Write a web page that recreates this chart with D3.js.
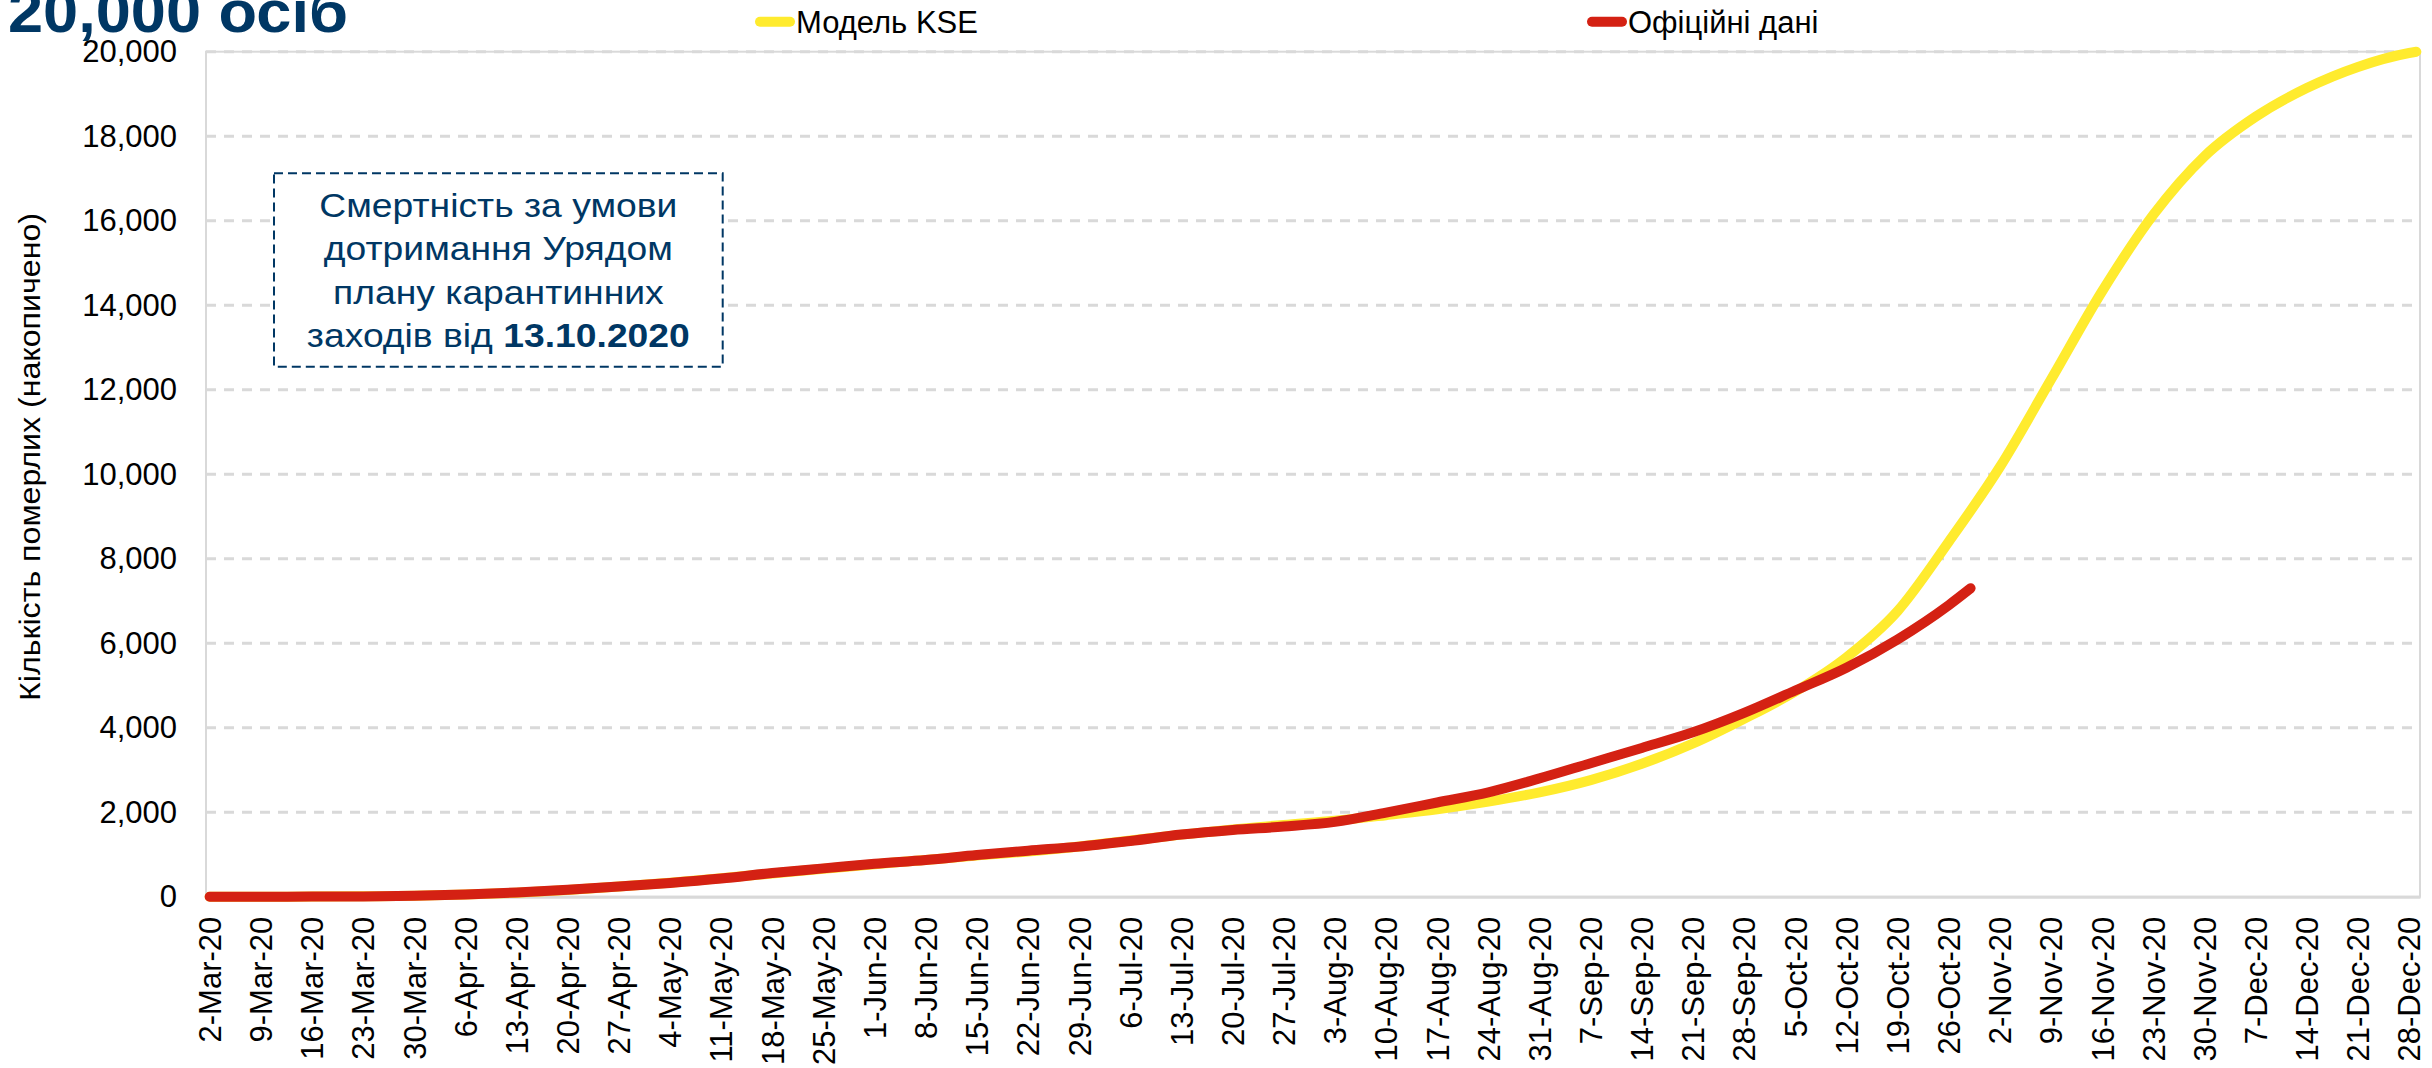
<!DOCTYPE html>
<html>
<head>
  <meta charset="utf-8">
  <title>Смертність COVID-19: модель KSE та офіційні дані</title>
  <style>
    body { margin: 0; background: #fff; }
    svg { display: block; font-family: 'Liberation Sans', Arial, sans-serif; }
  </style>
</head>
<body>
  <div id="plot"></div>
  <script src="https://cdn.jsdelivr.net/npm/d3@7"></script>
  <script>

    // weekly tick labels on the x axis
    let weekLabels = [
      '2-Mar-20', '9-Mar-20', '16-Mar-20', '23-Mar-20', '30-Mar-20',
      '6-Apr-20', '13-Apr-20', '20-Apr-20', '27-Apr-20',
      '4-May-20', '11-May-20', '18-May-20', '25-May-20',
      '1-Jun-20', '8-Jun-20', '15-Jun-20', '22-Jun-20', '29-Jun-20',
      '6-Jul-20', '13-Jul-20', '20-Jul-20', '27-Jul-20',
      '3-Aug-20', '10-Aug-20', '17-Aug-20', '24-Aug-20', '31-Aug-20',
      '7-Sep-20', '14-Sep-20', '21-Sep-20', '28-Sep-20',
      '5-Oct-20', '12-Oct-20', '19-Oct-20', '26-Oct-20',
      '2-Nov-20', '9-Nov-20', '16-Nov-20', '23-Nov-20', '30-Nov-20',
      '7-Dec-20', '14-Dec-20', '21-Dec-20', '28-Dec-20'
    ];

    // KSE model, cumulative deaths
    let kseDates = weekLabels.concat(['29-Dec-20']);
    let kseValues = [
      0, 1, 3, 8, 20, 50, 95, 160, 240, 330, 440, 550, 660, 770, 870,
      975, 1070, 1190, 1330, 1470, 1590, 1700, 1800, 1930, 2070, 2250,
      2470, 2760, 3146, 3625, 4210, 4855, 5665, 6760, 8400, 10170,
      12240, 14330, 16140, 17525, 18460, 19140, 19640, 19970, 20000
    ];

    // official data, cumulative deaths
    let officialDates = weekLabels.slice(0, 35).concat(['29-Oct-20']);
    let officialValues = [
      0, 0, 2, 5, 22, 50, 100, 165, 240, 325, 430, 560, 670, 780, 870,
      985, 1090, 1185, 1320, 1470, 1580, 1660, 1770, 1990, 2230, 2470,
      2800, 3160, 3520, 3890, 4350, 4880, 5420, 6090, 6900, 7300
    ];

    let yTicks = [0, 2000, 4000, 6000, 8000, 10000, 12000, 14000, 16000, 18000, 20000];

    let seriesNames = ['Модель KSE', 'Офіційні дані'];
    let seriesColors = ['#ffeb2e', '#d42113'];

    let titleText = '20,000 осіб';
    let yTitle = 'Кількість померлих (накопичено)';
    let noteLines = ['Смертність за умови', 'дотримання Урядом', 'плану карантинних'];
    let noteLast = ['заходів від ', '13.10.2020'];

    function translate(x, y) {
      return 'translate(' + x + ', ' + y + ')';
    }

    let parseDate = d3.utcParse('%d-%b-%y');
    let navy = '#003764';
    let grid = '#d9d9d9';
    let font = "'Liberation Sans', Arial, sans-serif";

    let svgWidth = 2432;
    let svgHeight = 1068;
    let plot = {left: 206, right: 2420, top: 51.7, bottom: 896.7};

    let svg = d3.select('#plot')
      .append('svg')
        .attr('width', svgWidth)
        .attr('height', svgHeight);

    let start = d3.utcHour.offset(parseDate('1-Mar-20'), 12);
    let end = d3.utcHour.offset(parseDate('29-Dec-20'), 12);

    let x = d3.scaleUtc()
      .domain([start, end])
      .range([plot.left, plot.right]);

    let y = d3.scaleLinear()
      .domain([0, 20000])
      .range([plot.bottom, plot.top]);

    // plot area frame
    svg.append('rect')
      .attr('x', plot.left)
      .attr('y', plot.top)
      .attr('width', plot.right - plot.left)
      .attr('height', plot.bottom - plot.top)
      .style('fill', 'none')
      .style('stroke', grid)
      .style('stroke-width', 2);

    // dashed gridlines
    svg.append('g')
      .selectAll('line')
      .data(yTicks.filter(d => d > 0))
      .enter()
      .append('line')
        .attr('x1', plot.left)
        .attr('x2', plot.right)
        .attr('y1', d => y(d))
        .attr('y2', d => y(d))
        .style('stroke', grid)
        .style('stroke-width', 3)
        .style('stroke-dasharray', '10,8');

    // y axis
    let yAxis = d3.axisLeft(y)
      .tickValues(yTicks)
      .tickSize(0)
      .tickPadding(29)
      .tickFormat(d3.format(','));

    svg.append('g')
      .attr('transform', translate(plot.left, 0))
      .call(yAxis)
      .call(g => g.select('.domain').remove())
      .selectAll('text')
        .style('font-size', '31px')
        .style('fill', '#000')
        .style('font-family', font);

    // x axis
    let xAxis = d3.axisBottom(x)
      .tickValues(weekLabels.map(parseDate))
      .tickSize(0)
      .tickFormat(d => d3.utcFormat('%-d-%b-%y')(d));

    let xg = svg.append('g')
      .attr('transform', translate(0, plot.bottom))
      .call(xAxis);

    xg.select('.domain')
      .style('stroke', grid)
      .style('stroke-width', 3);

    xg.selectAll('text')
      .attr('transform', 'rotate(-90)')
      .attr('x', -20)
      .attr('y', 0)
      .attr('dy', '0.35em')
      .style('text-anchor', 'end')
      .style('font-size', '31px')
      .style('fill', '#000')
      .style('font-family', font);

    // y axis title
    svg.append('text')
      .attr('transform', translate(40, 457) + ' rotate(-90)')
      .attr('x', -244)
      .attr('textLength', 488)
      .attr('lengthAdjust', 'spacingAndGlyphs')
      .style('font-size', '30px')
      .style('fill', '#000')
      .text(yTitle);

    // lines
    let line = d3.line()
      .x(d => x(d.date))
      .y(d => y(d.value))
      .curve(d3.curveMonotoneX);

    let kse = kseDates.map((d, i) => ({date: parseDate(d), value: kseValues[i]}));
    let official = officialDates.map((d, i) => ({date: parseDate(d), value: officialValues[i]}));

    [kse, official].forEach((series, i) => {
      svg.append('path')
        .datum(series)
        .attr('d', line)
        .style('fill', 'none')
        .style('stroke', seriesColors[i])
        .style('stroke-width', 10)
        .style('stroke-linecap', 'round')
        .style('stroke-linejoin', 'round');
    });

    // legend
    let legendX = [755, 1587];
    let legend = svg.selectAll('.legend')
      .data(seriesNames)
      .enter()
      .append('g')
        .attr('class', 'legend')
        .attr('transform', (d, i) => translate(legendX[i], 21.7));

    legend.append('line')
      .attr('x1', 5)
      .attr('x2', 35)
      .style('stroke', (d, i) => seriesColors[i])
      .style('stroke-width', 10)
      .style('stroke-linecap', 'round');

    legend.append('text')
      .attr('x', 41)
      .attr('y', 11)
      .style('font-size', '31px')
      .style('fill', '#000')
      .text(d => d);

    // title (clipped at the top edge)
    svg.append('text')
      .attr('x', 8)
      .attr('y', 32)
      .attr('textLength', 340)
      .attr('lengthAdjust', 'spacingAndGlyphs')
      .style('font-size', '60px')
      .style('font-weight', 'bold')
      .style('fill', navy)
      .text(titleText);

    // annotation box
    let box = {x: 274, y: 173.3, w: 448.7, h: 193.4};
    svg.append('rect')
      .attr('x', box.x)
      .attr('y', box.y)
      .attr('width', box.w)
      .attr('height', box.h)
      .style('fill', '#fff')
      .style('stroke', navy)
      .style('stroke-width', 2)
      .style('stroke-dasharray', '9,5');

    let note = svg.append('text')
      .attr('transform', translate(box.x + box.w / 2, 0) + ' scale(1.13, 1)')
      .style('font-size', '33px')
      .style('fill', navy)
      .style('text-anchor', 'middle');

    noteLines.forEach((t, i) => {
      note.append('tspan')
        .attr('x', 0)
        .attr('y', 217 + i * 43.3)
        .text(t);
    });

    let last = note.append('tspan')
      .attr('x', 0)
      .attr('y', 217 + 3 * 43.3);
    last.append('tspan').text(noteLast[0]);
    last.append('tspan').style('font-weight', 'bold').text(noteLast[1]);

  </script>
</body>
</html>
